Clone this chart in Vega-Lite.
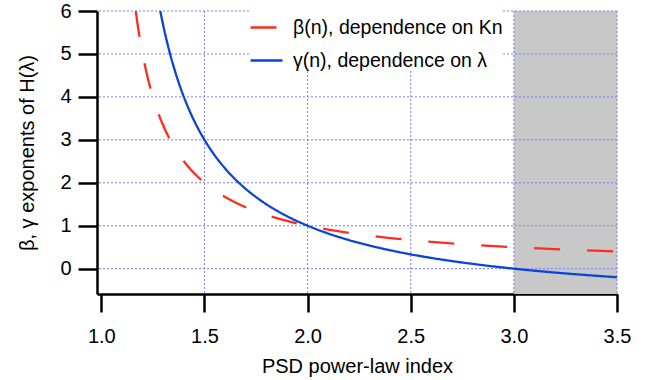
{
  "$schema": "https://vega.github.io/schema/vega-lite/v6.json",
  "autosize": "none",
  "width": 520,
  "height": 283,
  "padding": {"left": 97, "top": 11, "right": 32, "bottom": 86},
  "background": "white",
  "config": {
    "view": {"stroke": null},
    "font": "Liberation Sans"
  },
  "datasets": {
    "band": [{"from": 3.0, "to": 3.5}],
    "vgrid": [{"g": 1.5}, {"g": 2.0}, {"g": 2.5}, {"g": 3.0}, {"g": 3.5}],
    "hgrid": [{"h": 0}, {"h": 1}, {"h": 2}, {"h": 3}, {"h": 4}, {"h": 5}, {"h": 6}],
    "curves": [
      {"s": "β(n), dependence on Kn", "n": 1.16667, "v": 6.0},
      {"s": "β(n), dependence on Kn", "n": 1.18, "v": 5.5556},
      {"s": "β(n), dependence on Kn", "n": 1.20, "v": 5.0},
      {"s": "β(n), dependence on Kn", "n": 1.22, "v": 4.5455},
      {"s": "β(n), dependence on Kn", "n": 1.24, "v": 4.1667},
      {"s": "β(n), dependence on Kn", "n": 1.26, "v": 3.8462},
      {"s": "β(n), dependence on Kn", "n": 1.28, "v": 3.5714},
      {"s": "β(n), dependence on Kn", "n": 1.30, "v": 3.3333},
      {"s": "β(n), dependence on Kn", "n": 1.32, "v": 3.125},
      {"s": "β(n), dependence on Kn", "n": 1.34, "v": 2.9412},
      {"s": "β(n), dependence on Kn", "n": 1.36, "v": 2.7778},
      {"s": "β(n), dependence on Kn", "n": 1.38, "v": 2.6316},
      {"s": "β(n), dependence on Kn", "n": 1.40, "v": 2.5},
      {"s": "β(n), dependence on Kn", "n": 1.43, "v": 2.3256},
      {"s": "β(n), dependence on Kn", "n": 1.46, "v": 2.1739},
      {"s": "β(n), dependence on Kn", "n": 1.50, "v": 2.0},
      {"s": "β(n), dependence on Kn", "n": 1.55, "v": 1.8182},
      {"s": "β(n), dependence on Kn", "n": 1.60, "v": 1.6667},
      {"s": "β(n), dependence on Kn", "n": 1.65, "v": 1.5385},
      {"s": "β(n), dependence on Kn", "n": 1.70, "v": 1.4286},
      {"s": "β(n), dependence on Kn", "n": 1.80, "v": 1.25},
      {"s": "β(n), dependence on Kn", "n": 1.90, "v": 1.1111},
      {"s": "β(n), dependence on Kn", "n": 2.00, "v": 1.0},
      {"s": "β(n), dependence on Kn", "n": 2.10, "v": 0.9091},
      {"s": "β(n), dependence on Kn", "n": 2.20, "v": 0.8333},
      {"s": "β(n), dependence on Kn", "n": 2.35, "v": 0.7407},
      {"s": "β(n), dependence on Kn", "n": 2.50, "v": 0.6667},
      {"s": "β(n), dependence on Kn", "n": 2.65, "v": 0.6061},
      {"s": "β(n), dependence on Kn", "n": 2.80, "v": 0.5556},
      {"s": "β(n), dependence on Kn", "n": 3.00, "v": 0.5},
      {"s": "β(n), dependence on Kn", "n": 3.20, "v": 0.4545},
      {"s": "β(n), dependence on Kn", "n": 3.50, "v": 0.4},
      {"s": "γ(n), dependence on λ", "n": 1.2857, "v": 6.0},
      {"s": "γ(n), dependence on λ", "n": 1.30, "v": 5.6667},
      {"s": "γ(n), dependence on λ", "n": 1.32, "v": 5.25},
      {"s": "γ(n), dependence on λ", "n": 1.34, "v": 4.8824},
      {"s": "γ(n), dependence on λ", "n": 1.36, "v": 4.5556},
      {"s": "γ(n), dependence on λ", "n": 1.38, "v": 4.2632},
      {"s": "γ(n), dependence on λ", "n": 1.40, "v": 4.0},
      {"s": "γ(n), dependence on λ", "n": 1.43, "v": 3.6512},
      {"s": "γ(n), dependence on λ", "n": 1.46, "v": 3.3478},
      {"s": "γ(n), dependence on λ", "n": 1.50, "v": 3.0},
      {"s": "γ(n), dependence on λ", "n": 1.55, "v": 2.6364},
      {"s": "γ(n), dependence on λ", "n": 1.60, "v": 2.3333},
      {"s": "γ(n), dependence on λ", "n": 1.65, "v": 2.0769},
      {"s": "γ(n), dependence on λ", "n": 1.70, "v": 1.8571},
      {"s": "γ(n), dependence on λ", "n": 1.80, "v": 1.5},
      {"s": "γ(n), dependence on λ", "n": 1.90, "v": 1.2222},
      {"s": "γ(n), dependence on λ", "n": 2.00, "v": 1.0},
      {"s": "γ(n), dependence on λ", "n": 2.10, "v": 0.8182},
      {"s": "γ(n), dependence on λ", "n": 2.20, "v": 0.6667},
      {"s": "γ(n), dependence on λ", "n": 2.35, "v": 0.4815},
      {"s": "γ(n), dependence on λ", "n": 2.50, "v": 0.3333},
      {"s": "γ(n), dependence on λ", "n": 2.65, "v": 0.2121},
      {"s": "γ(n), dependence on λ", "n": 2.80, "v": 0.1111},
      {"s": "γ(n), dependence on λ", "n": 3.00, "v": 0.0},
      {"s": "γ(n), dependence on λ", "n": 3.20, "v": -0.0909},
      {"s": "γ(n), dependence on λ", "n": 3.50, "v": -0.2}
    ]
  },
  "layer": [
    {
      "data": {"name": "band"},
      "mark": {"type": "rect", "color": "#c8c8c8"},
      "encoding": {
        "x": {"field": "from", "type": "quantitative"},
        "x2": {"field": "to"}
      }
    },
    {
      "data": {"name": "vgrid"},
      "mark": {"type": "rule", "color": "#7a7aff", "strokeWidth": 1, "strokeDash": [2, 2]},
      "encoding": {
        "x": {"field": "g", "type": "quantitative"}
      }
    },
    {
      "data": {"name": "hgrid"},
      "mark": {"type": "rule", "color": "#7a7aff", "strokeWidth": 1, "strokeDash": [2, 2]},
      "encoding": {
        "y": {"field": "h", "type": "quantitative"}
      }
    },
    {
      "data": {"name": "curves"},
      "mark": {"type": "line", "interpolate": "monotone", "strokeWidth": 2.3, "strokeCap": "butt", "clip": true},
      "encoding": {
        "x": {
          "field": "n", "type": "quantitative",
          "scale": {"domain": [0.979, 3.5], "nice": false, "zero": false},
          "axis": {
            "title": "PSD power-law index",
            "values": [1.0, 1.5, 2.0, 2.5, 3.0, 3.5],
            "format": ".1f",
            "grid": false,
            "domainColor": "black", "domainWidth": 2.5,
            "tickColor": "black", "tickWidth": 2.5, "tickSize": 18,
            "labelFontSize": 20, "labelColor": "black", "labelPadding": 14,
            "labelFont": "Liberation Sans", "labelFlush": false, "labelOverlap": false,
            "titleFontSize": 20, "titleFontWeight": "normal", "titleColor": "black",
            "titleFont": "Liberation Sans", "titlePadding": 10
          }
        },
        "y": {
          "field": "v", "type": "quantitative",
          "scale": {"domain": [-0.59, 6], "nice": false, "zero": false},
          "axis": {
            "title": "β, γ exponents of H(λ)",
            "values": [0, 1, 2, 3, 4, 5, 6],
            "grid": false,
            "domainColor": "black", "domainWidth": 2.5,
            "tickColor": "black", "tickWidth": 2.5, "tickSize": 19,
            "labelFontSize": 20, "labelColor": "black", "labelPadding": 7,
            "labelFont": "Liberation Sans", "labelFlush": false, "labelOverlap": false,
            "titleFontSize": 20, "titleFontWeight": "normal", "titleColor": "black",
            "titleFont": "Liberation Sans", "titlePadding": 22
          }
        },
        "color": {
          "field": "s", "type": "nominal",
          "scale": {"domain": ["β(n), dependence on Kn", "γ(n), dependence on λ"], "range": ["#ff2b1c", "#0a44d6"]},
          "legend": {
            "title": null,
            "orient": "none", "legendX": 152, "legendY": -1,
            "symbolType": "stroke", "symbolSize": 1024, "symbolStrokeWidth": 2.5,
            "labelFontSize": 19.5, "labelFont": "Liberation Sans", "labelColor": "black",
            "labelOffset": 9, "labelLimit": 400, "rowPadding": 6,
            "fillColor": "white", "padding": 0
          }
        },
        "strokeDash": {
          "field": "s", "type": "nominal",
          "scale": {"domain": ["β(n), dependence on Kn", "γ(n), dependence on λ"], "range": [[26, 27], [1, 0]]},
          "legend": {
            "title": null,
            "orient": "none", "legendX": 152, "legendY": -1,
            "symbolType": "stroke", "symbolSize": 1024, "symbolStrokeWidth": 2.5,
            "labelFontSize": 19.5, "labelFont": "Liberation Sans", "labelColor": "black",
            "labelOffset": 9, "labelLimit": 400, "rowPadding": 6,
            "fillColor": "white", "padding": 0
          }
        }
      }
    }
  ]
}
